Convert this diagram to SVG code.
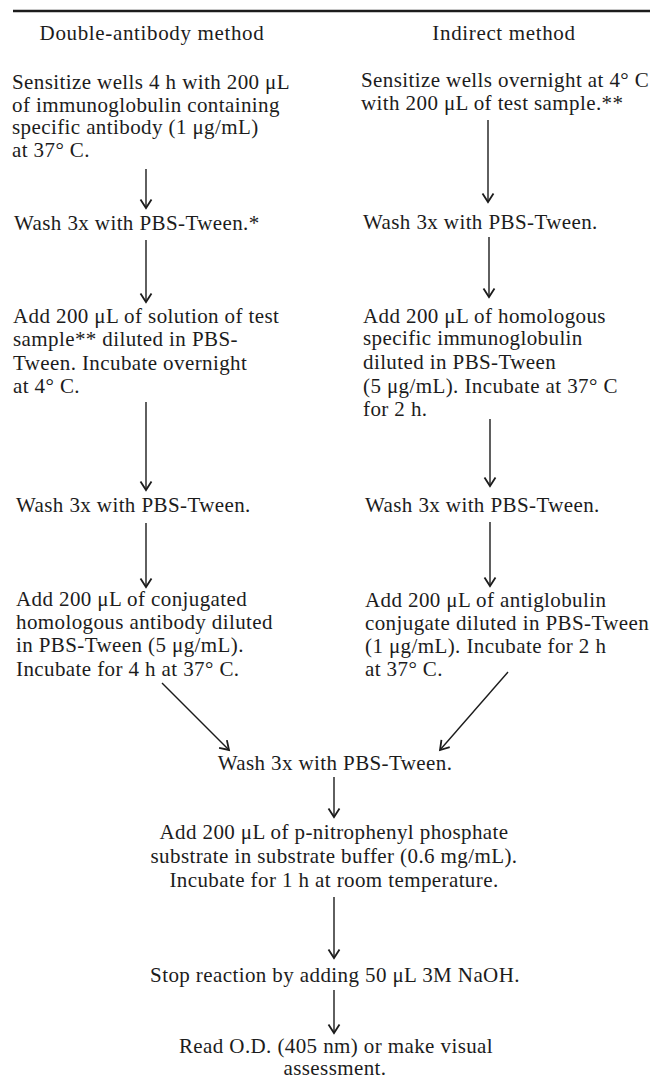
<svg xmlns="http://www.w3.org/2000/svg" width="650" height="1078" viewBox="0 0 650 1078">
<style>
text{font-family:"Liberation Serif","Times New Roman",serif;font-size:21px;fill:#1c1c1c;letter-spacing:0.4px}
.w{letter-spacing:0.65px}
.c{text-anchor:middle}
.ln{stroke:#1c1c1c;stroke-width:1.4;fill:none}
</style>
<defs>
<marker id="ah" markerWidth="14" markerHeight="14" refX="10" refY="6" orient="auto" markerUnits="userSpaceOnUse" viewBox="0 0 14 12">
<path d="M1.5,0.5 L10,6 L1.5,11.5" fill="none" stroke="#1c1c1c" stroke-width="1.8"/>
</marker>
</defs>
<rect width="650" height="1078" fill="#fff"/>
<line x1="13" y1="11" x2="650" y2="11" stroke="#1c1c1c" stroke-width="2.6"/>
<g id="hdr-left"><text class="c w" x="152" y="40">Double-antibody method</text></g>
<g id="hdr-right"><text class="c w" x="504" y="40">Indirect method</text></g>

<g id="L1" class="w"><text x="12" y="89">Sensitize wells 4 h with 200 μL</text><text x="12" y="111.5">of immunoglobulin containing</text><text x="12" y="134">specific antibody (1 μg/mL)</text><text x="12" y="156.5">at 37° C.</text></g>
<g id="L2" class="w"><text x="14" y="230">Wash 3x with PBS-Tween.*</text></g>
<g id="L3" class="w"><text x="13" y="323">Add 200 μL of solution of test</text><text x="13" y="346">sample** diluted in PBS-</text><text x="13" y="370">Tween. Incubate overnight</text><text x="13" y="393">at 4° C.</text></g>
<g id="L4" class="w"><text x="16" y="512">Wash 3x with PBS-Tween.</text></g>
<g id="L5" class="w"><text x="16" y="606">Add 200 μL of conjugated</text><text x="16" y="629">homologous antibody diluted</text><text x="16" y="652">in PBS-Tween (5 μg/mL).</text><text x="16" y="676">Incubate for 4 h at 37° C.</text></g>

<g id="R1"><text x="361" y="87">Sensitize wells overnight at 4° C</text><text x="361" y="110">with 200 μL of test sample.**</text></g>
<g id="R2"><text x="363" y="229">Wash 3x with PBS-Tween.</text></g>
<g id="R3"><text x="363" y="323">Add 200 μL of homologous</text><text x="363" y="345">specific immunoglobulin</text><text x="363" y="369">diluted in PBS-Tween</text><text x="363" y="393">(5 μg/mL). Incubate at 37° C</text><text x="363" y="416">for 2 h.</text></g>
<g id="R4"><text x="365" y="512">Wash 3x with PBS-Tween.</text></g>
<g id="R5"><text x="365" y="607">Add 200 μL of antiglobulin</text><text x="365" y="630">conjugate diluted in PBS-Tween</text><text x="365" y="653">(1 μg/mL). Incubate for 2 h</text><text x="365" y="676">at 37° C.</text></g>

<g id="M1"><text class="c" x="335" y="770">Wash 3x with PBS-Tween.</text></g>
<g id="M2"><text class="c" x="334" y="839">Add 200 μL of p-nitrophenyl phosphate</text><text class="c" x="334" y="863">substrate in substrate buffer (0.6 mg/mL).</text><text class="c" x="334" y="887">Incubate for 1 h at room temperature.</text></g>
<g id="M3"><text class="c" x="335" y="982">Stop reaction by adding 50 μL 3M NaOH.</text></g>
<g id="M4"><text class="c" x="336" y="1053">Read O.D. (405 nm) or make visual</text><text class="c" x="335" y="1075">assessment.</text></g>

<g id="connectors" class="ln">
<line class="ln" x1="146" y1="169" x2="146" y2="208" marker-end="url(#ah)"/>
<line class="ln" x1="146" y1="240" x2="146" y2="302" marker-end="url(#ah)"/>
<line class="ln" x1="146" y1="402" x2="146" y2="490" marker-end="url(#ah)"/>
<line class="ln" x1="146" y1="523" x2="146" y2="587" marker-end="url(#ah)"/>
<line class="ln" x1="488" y1="120" x2="488" y2="202" marker-end="url(#ah)"/>
<line class="ln" x1="489" y1="237" x2="489" y2="297" marker-end="url(#ah)"/>
<line class="ln" x1="490" y1="419" x2="490" y2="486" marker-end="url(#ah)"/>
<line class="ln" x1="490" y1="522" x2="490" y2="586" marker-end="url(#ah)"/>
<line class="ln" x1="162" y1="683" x2="229" y2="750" marker-end="url(#ah)"/>
<line class="ln" x1="508" y1="672" x2="440" y2="750" marker-end="url(#ah)"/>
<line class="ln" x1="334" y1="777" x2="334" y2="817" marker-end="url(#ah)"/>
<line class="ln" x1="334" y1="897" x2="334" y2="958" marker-end="url(#ah)"/>
<line class="ln" x1="334" y1="990" x2="334" y2="1033" marker-end="url(#ah)"/>
</g>
</svg>
